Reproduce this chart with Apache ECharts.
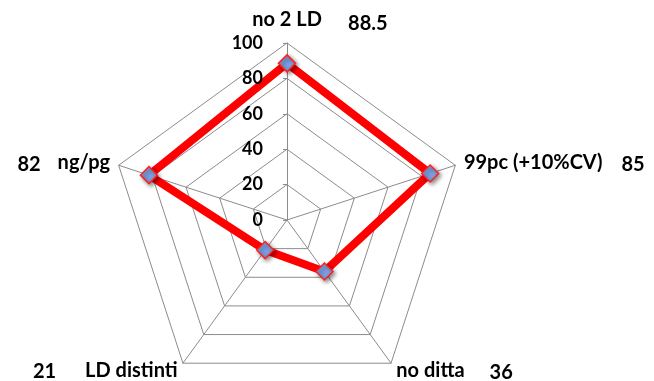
<!DOCTYPE html>
<html>
<head>
<meta charset="utf-8">
<script src="https://cdn.jsdelivr.net/npm/echarts@6/dist/echarts.min.js"></script>
<style>
  html, body { margin: 0; padding: 0; background: #fff; }
  #chart { width: 654px; height: 381px; }
</style>
</head>
<body>
<div id="chart"></div>
<script>
// Indicators listed from the top axis, going counter-clockwise (ECharts radar order)
const categories = ['no 2 LD', 'ng/pg', 'LD distinti', 'no ditta', '99pc (+10%CV)'];
const values = [88.5, 82, 21, 36, 85];
const tickLabels = [0, 20, 40, 60, 80, 100];

const FONT = 'Lato';
const CENTER = [287, 220];
const RADIUS = 177;

const chart = echarts.init(document.getElementById('chart'), null, { renderer: 'canvas' });

// Each axis name carries its value beside it: value on the left for the left-hand axes,
// on the right for the others; the top one keeps the name itself centred over the axis.
function axisNameFormatter(name) {
  const i = categories.indexOf(name);
  const v = values[i];
  if (i === 0) return '{pad| }{n|' + name + '}{vt|' + v + '}';
  if (i === 1) return '{vl|' + v + '}{n|' + name + '}';
  if (i === 2) return '{vbl|' + v + '}{n|' + name + '}';
  if (i === 3) return '{n|' + name + '}{vbr|' + v + '}';
  return '{n|' + name + '}{vr|' + v + '}';
}

const txt = { fontFamily: FONT, fontWeight: 'bold', fontSize: 20, color: '#000' };

chart.setOption({
  animation: false,
  backgroundColor: '#fff',
  radar: {
    center: CENTER,
    radius: RADIUS,
    startAngle: 90,
    shape: 'polygon',
    splitNumber: 5,
    nameGap: 9,
    indicator: categories.map(n => ({ name: n, min: 0, max: 100 })),
    axisName: {
      formatter: axisNameFormatter,
      color: '#000',
      rich: {
        n: Object.assign({}, txt),
        pad: Object.assign({}, txt, { width: 67 }),
        vt: Object.assign({}, txt, { width: 42, padding: [8, 0, 0, 25] }),
        vl: Object.assign({}, txt, { padding: [4, 17, 0, 0] }),
        vbl: Object.assign({}, txt, { padding: [2, 29, 0, 0] }),
        vbr: Object.assign({}, txt, { padding: [4, 0, 0, 25] }),
        vr: Object.assign({}, txt, { padding: [4, 0, 0, 19] })
      }
    },
    axisLine: { lineStyle: { color: '#8c8c8c', width: 1 } },
    splitLine: { lineStyle: { color: '#8c8c8c', width: 1 } },
    splitArea: { show: false }
  },
  // Polar overlay used only to print the 0-100 scale along the top axis
  polar: { center: CENTER, radius: RADIUS },
  angleAxis: { show: false, startAngle: 90, min: 0, max: 360 },
  radiusAxis: {
    min: tickLabels[0],
    max: tickLabels[tickLabels.length - 1],
    interval: 20,
    axisLine: { show: false },
    axisTick: { show: true, length: 4, lineStyle: { color: '#8c8c8c' } },
    splitLine: { show: false },
    axisLabel: {
      show: true,
      margin: 24,
      fontFamily: FONT,
      fontWeight: 'bold',
      fontSize: 18,
      color: '#000',
      showMinLabel: true,
      showMaxLabel: true
    },
    z: 5
  },
  series: [{
    type: 'radar',
    symbol: 'diamond',
    symbolSize: 17,
    lineStyle: { color: '#ff0000', width: 8 },
    itemStyle: {
      color: '#7ba0e2',
      borderColor: '#ff2020',
      borderWidth: 1.5,
      shadowBlur: 4,
      shadowColor: 'rgba(0,0,0,0.45)',
      shadowOffsetX: 2,
      shadowOffsetY: 2
    },
    data: [{ value: values, name: 'valori' }],
    z: 3
  }]
});
</script>
</body>
</html>
